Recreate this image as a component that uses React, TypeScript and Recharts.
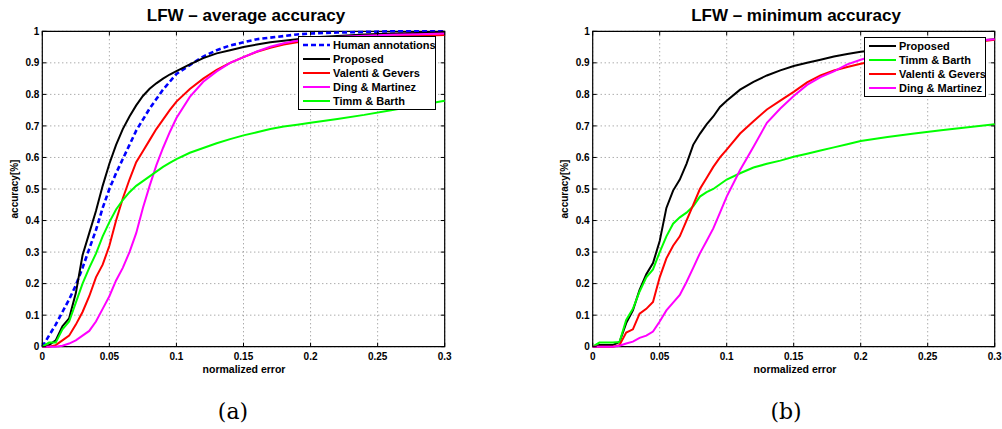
import {
  LineChart,
  Line,
  XAxis,
  YAxis,
  CartesianGrid,
  Legend,
  ReferenceArea,
} from "recharts";

const errors = [
  0, 0.005, 0.01, 0.015, 0.02, 0.025, 0.03, 0.035, 0.04, 0.045, 0.05, 0.055,
  0.06, 0.065, 0.07, 0.075, 0.08, 0.085, 0.09, 0.095, 0.1, 0.11, 0.12, 0.13,
  0.14, 0.15, 0.16, 0.17, 0.18, 0.19, 0.2, 0.22, 0.24, 0.26, 0.28, 0.3,
];
const xTicks = [0, 0.05, 0.1, 0.15, 0.2, 0.25, 0.3];
const yTicks = [0, 0.1, 0.2, 0.3, 0.4, 0.5, 0.6, 0.7, 0.8, 0.9, 1];

// (a) average accuracy
const avgHuman = [
  0, 0.035, 0.07, 0.11, 0.15, 0.195, 0.25, 0.31, 0.37, 0.44, 0.5, 0.55, 0.595,
  0.64, 0.685, 0.72, 0.755, 0.785, 0.815, 0.84, 0.865, 0.893, 0.92, 0.94,
  0.955, 0.965, 0.975, 0.98, 0.985, 0.99, 0.993, 0.996, 0.998, 1, 1, 1,
];
const avgProposed = [
  0, 0.005, 0.02, 0.065, 0.09, 0.17, 0.29, 0.36, 0.43, 0.51, 0.58, 0.64, 0.69,
  0.73, 0.765, 0.795, 0.818, 0.835, 0.85, 0.863, 0.874, 0.895, 0.915, 0.93,
  0.94, 0.95, 0.958, 0.965, 0.97, 0.975, 0.98, 0.985, 0.99, 0.993, 0.995, 0.997,
];
const avgValenti = [
  0, 0, 0.005, 0.02, 0.035, 0.07, 0.11, 0.16, 0.22, 0.26, 0.32, 0.4, 0.47,
  0.53, 0.585, 0.62, 0.655, 0.69, 0.72, 0.75, 0.777, 0.817, 0.85, 0.878, 0.9,
  0.918, 0.935, 0.948, 0.958, 0.965, 0.97, 0.977, 0.981, 0.984, 0.986, 0.988,
];
const avgDing = [
  0, 0, 0, 0.003, 0.01, 0.02, 0.035, 0.05, 0.08, 0.12, 0.16, 0.21, 0.25, 0.3,
  0.36, 0.44, 0.51, 0.575, 0.63, 0.68, 0.725, 0.792, 0.84, 0.873, 0.9, 0.918,
  0.936, 0.951, 0.962, 0.97, 0.975, 0.982, 0.986, 0.989, 0.991, 0.993,
];
const avgTimm = [
  0, 0.013, 0.013, 0.055, 0.08, 0.14, 0.2, 0.25, 0.295, 0.35, 0.395, 0.435,
  0.465, 0.49, 0.51, 0.525, 0.54, 0.555, 0.57, 0.583, 0.595, 0.615, 0.63,
  0.645, 0.658, 0.67, 0.68, 0.69, 0.698, 0.704, 0.71, 0.722, 0.735, 0.75,
  0.765, 0.78,
];

// (b) minimum accuracy
const minProposed = [
  0, 0.005, 0.005, 0.005, 0.015, 0.075, 0.115, 0.18, 0.23, 0.265, 0.335, 0.44,
  0.495, 0.53, 0.58, 0.64, 0.675, 0.705, 0.73, 0.76, 0.78, 0.815, 0.84, 0.86,
  0.876, 0.89, 0.9, 0.91, 0.92, 0.928, 0.935, 0.945, 0.953, 0.96, 0.968, 0.975,
];
const minTimm = [
  0, 0.013, 0.013, 0.013, 0.015, 0.085, 0.12, 0.175, 0.22, 0.245, 0.3, 0.35,
  0.39, 0.41, 0.425, 0.445, 0.476, 0.49, 0.5, 0.515, 0.53, 0.55, 0.568, 0.58,
  0.59, 0.602, 0.612, 0.622, 0.632, 0.642, 0.652, 0.665, 0.676, 0.686, 0.696,
  0.705,
];
const minValenti = [
  0, 0, 0, 0, 0.005, 0.045, 0.055, 0.105, 0.12, 0.142, 0.22, 0.28, 0.32, 0.35,
  0.4, 0.45, 0.5, 0.535, 0.57, 0.6, 0.625, 0.676, 0.715, 0.752, 0.78, 0.808,
  0.838, 0.86, 0.876, 0.887, 0.897, 0.915, 0.935, 0.95, 0.963, 0.973,
];
const minDing = [
  0, 0, 0, 0, 0.003, 0.01, 0.016, 0.028, 0.035, 0.048, 0.08, 0.115, 0.14,
  0.164, 0.205, 0.25, 0.296, 0.335, 0.375, 0.425, 0.476, 0.56, 0.634, 0.71,
  0.755, 0.795, 0.83, 0.855, 0.873, 0.895, 0.91, 0.935, 0.95, 0.96, 0.968,
  0.975,
];

const avgData = errors.map((e, i) => ({
  e,
  human: avgHuman[i],
  proposed: avgProposed[i],
  valenti: avgValenti[i],
  ding: avgDing[i],
  timm: avgTimm[i],
}));

const minData = errors.map((e, i) => ({
  e,
  proposed: minProposed[i],
  timm: minTimm[i],
  valenti: minValenti[i],
  ding: minDing[i],
}));

type Series = { key: string; name: string; color: string; dash?: string };

const avgSeries: Series[] = [
  { key: "human", name: "Human annotations", color: "#0000ff", dash: "5 3" },
  { key: "proposed", name: "Proposed", color: "#000000" },
  { key: "valenti", name: "Valenti & Gevers", color: "#ff0000" },
  { key: "ding", name: "Ding & Martinez", color: "#ff00ff" },
  { key: "timm", name: "Timm & Barth", color: "#00ff00" },
];

const minSeries: Series[] = [
  { key: "proposed", name: "Proposed", color: "#000000" },
  { key: "timm", name: "Timm & Barth", color: "#00ff00" },
  { key: "valenti", name: "Valenti & Gevers", color: "#ff0000" },
  { key: "ding", name: "Ding & Martinez", color: "#ff00ff" },
];

const FONT = "'Liberation Sans', Arial, sans-serif";
const W = 460;
const H = 380;
const TOP = 31.3;
const BOTTOM = 346.7;

function makeYTick(left: number, right: number) {
  return (props: any) => {
    const { x, y, payload } = props;
    return (
      <g>
        <line x1={left} x2={left + 4} y1={y} y2={y} stroke="#000" />
        <line x1={right - 4} x2={right} y1={y} y2={y} stroke="#000" />
        <text
          x={x}
          y={y}
          dy={3.6}
          textAnchor="end"
          fontSize={10}
          fontWeight="bold"
          fontFamily={FONT}
          fill="#000"
        >
          {String(payload.value)}
        </text>
      </g>
    );
  };
}

function makeXTick() {
  return (props: any) => {
    const { x, y, payload } = props;
    return (
      <g>
        <line x1={x} x2={x} y1={BOTTOM} y2={BOTTOM - 4} stroke="#000" />
        <line x1={x} x2={x} y1={TOP} y2={TOP + 4} stroke="#000" />
        <text
          x={x}
          y={y}
          dy={13.3}
          textAnchor="middle"
          fontSize={10}
          fontWeight="bold"
          fontFamily={FONT}
          fill="#000"
        >
          {String(payload.value)}
        </text>
      </g>
    );
  };
}

function legendBox(items: Series[], width: number) {
  return () => (
    <div
      style={{
        boxSizing: "border-box",
        width,
        border: "1px solid #000",
        background: "#fff",
        padding: "1px 4px 1px 4px",
        fontFamily: FONT,
        fontSize: 11,
        fontWeight: "bold",
        color: "#000",
        textAlign: "left",
      }}
    >
      {items.map((s) => (
        <div
          key={s.key}
          style={{ display: "flex", alignItems: "center", height: 14 }}
        >
          <svg width={27} height={6} style={{ flex: "none" }}>
            <line
              x1={0}
              x2={27}
              y1={3}
              y2={3}
              stroke={s.color}
              strokeWidth={s.dash ? 2.6 : 2}
              strokeDasharray={s.dash}
            />
          </svg>
          <span style={{ marginLeft: 3, whiteSpace: "nowrap" }}>{s.name}</span>
        </div>
      ))}
    </div>
  );
}

function Panel(props: {
  data: any[];
  series: Series[];
  left: number;
  legendLeft: number;
  legendTop: number;
  legendWidth: number;
}) {
  const { data, series, left, legendLeft, legendTop, legendWidth } = props;
  const plotLeft = left;
  const plotRight = W - 15.3;
  return (
    <LineChart
      width={W}
      height={H}
      data={data}
      margin={{ top: TOP, right: W - plotRight, bottom: H - BOTTOM - 20, left: plotLeft - 30 }}
    >
      <CartesianGrid stroke="#888" strokeDasharray="1 3" />
      <XAxis
        dataKey="e"
        type="number"
        domain={[0, 0.3]}
        ticks={xTicks}
        interval={0}
        height={20}
        axisLine={false}
        tickLine={false}
        tickSize={0}
        tickMargin={0}
        tick={makeXTick()}
      />
      <YAxis
        type="number"
        domain={[0, 1]}
        ticks={yTicks}
        interval={0}
        width={30}
        axisLine={false}
        tickLine={false}
        tickSize={0}
        tickMargin={3}
        tick={makeYTick(plotLeft, plotRight)}
      />
      {series.map((s) => (
        <Line
          key={s.key}
          dataKey={s.key}
          name={s.name}
          type="linear"
          stroke={s.color}
          strokeWidth={s.dash ? 2.6 : 2}
          strokeDasharray={s.dash}
          dot={false}
          activeDot={false}
          isAnimationActive={false}
        />
      ))}
      <ReferenceArea
        x1={0}
        x2={0.3}
        y1={0}
        y2={1}
        fill="none"
        stroke="#000"
        strokeWidth={1.2}
        ifOverflow="visible"
      />
      <Legend
        layout="horizontal"
        verticalAlign="middle"
        align="center"
        content={legendBox(series, legendWidth)}
        wrapperStyle={{ left: legendLeft, top: legendTop, width: legendWidth }}
      />
    </LineChart>
  );
}

const textBase: any = {
  position: "absolute",
  fontFamily: FONT,
  fontWeight: "bold",
  color: "#000",
  textAlign: "center",
  whiteSpace: "nowrap",
};

const captionStyle: any = {
  position: "absolute",
  top: 399,
  width: 100,
  textAlign: "center",
  fontFamily: "'DejaVu Serif', serif",
  fontSize: 22,
  lineHeight: "26px",
  color: "#000",
};

export default function App() {
  return (
    <div
      style={{
        position: "absolute",
        left: 0,
        top: 0,
        width: 1002,
        height: 429,
        background: "#fff",
        overflow: "hidden",
      }}
    >
      <div style={{ position: "absolute", left: 0, top: 0 }}>
        <Panel
          data={avgData}
          series={avgSeries}
          left={42.3}
          legendLeft={298}
          legendTop={36}
          legendWidth={138}
        />
      </div>
      <div style={{ position: "absolute", left: 550, top: 0 }}>
        <Panel
          data={minData}
          series={minSeries}
          left={42.7}
          legendLeft={314}
          legendTop={37}
          legendWidth={122}
        />
      </div>

      <div style={{ ...textBase, left: 46, top: 6, width: 400, fontSize: 17, lineHeight: "20px" }}>
        LFW – average accuracy
      </div>
      <div style={{ ...textBase, left: 596, top: 6, width: 400, fontSize: 17, lineHeight: "20px" }}>
        LFW – minimum accuracy
      </div>

      <div style={{ ...textBase, left: 144, top: 363, width: 200, fontSize: 10.5, lineHeight: "12px" }}>
        normalized error
      </div>
      <div style={{ ...textBase, left: 695, top: 363, width: 200, fontSize: 10.5, lineHeight: "12px" }}>
        normalized error
      </div>

      <div
        style={{
          ...textBase,
          left: 14.5 - 50,
          top: 189 - 6,
          width: 100,
          fontSize: 10,
          lineHeight: "12px",
          transform: "rotate(-90deg)",
        }}
      >
        accuracy[%]
      </div>
      <div
        style={{
          ...textBase,
          left: 564.5 - 50,
          top: 189 - 6,
          width: 100,
          fontSize: 10,
          lineHeight: "12px",
          transform: "rotate(-90deg)",
        }}
      >
        accuracy[%]
      </div>

      <div style={{ ...captionStyle, left: 183 }}>(a)</div>
      <div style={{ ...captionStyle, left: 736 }}>(b)</div>
    </div>
  );
}
